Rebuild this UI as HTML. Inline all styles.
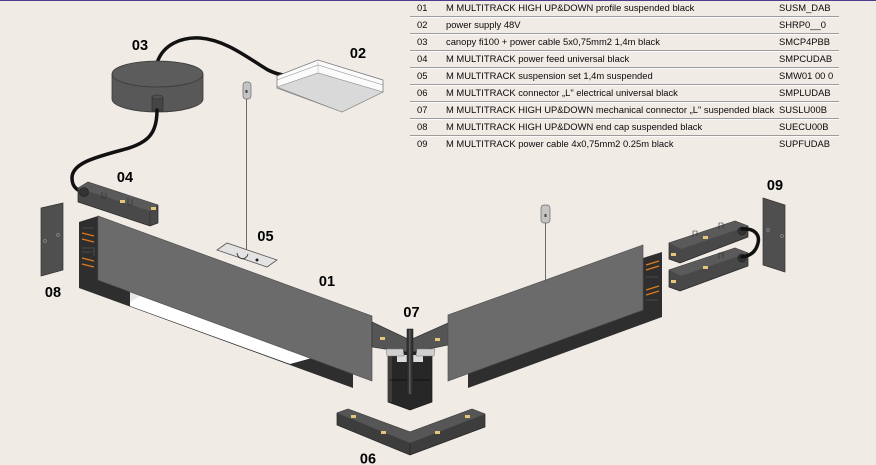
<!DOCTYPE html>
<html><head><meta charset="utf-8">
<style>
html,body{margin:0;padding:0;}
body{width:876px;height:465px;background:#f0ebe5;position:relative;overflow:hidden;font-family:"Liberation Sans",Arial,sans-serif;}
.topline{position:absolute;left:0;top:0;width:876px;height:1px;background:#4b3d8e;}
.row{position:absolute;left:410px;width:429px;height:17px;font-size:9.4px;color:#0a0a0a;line-height:16px;}
.row .ln{position:absolute;left:0;right:0;bottom:0;height:1px;background:#9c9c9c;box-shadow:0 1px 0 #fbfbfb;}
.row span{position:absolute;top:0;white-space:nowrap;}
.n{left:7px;}
.d{left:36px;}
.c{left:369px;}
svg{position:absolute;left:0;top:0;}
</style></head><body>
<div class="topline"></div>

<div class="row" style="top:0px"><span class="n">01</span><span class="d">M MULTITRACK HIGH UP&amp;DOWN profile suspended black</span><span class="c">SUSM_DAB</span><div class="ln"></div></div>
<div class="row" style="top:17px"><span class="n">02</span><span class="d">power supply 48V</span><span class="c">SHRP0__0</span><div class="ln"></div></div>
<div class="row" style="top:34px"><span class="n">03</span><span class="d">canopy fi100 + power cable 5x0,75mm2 1,4m black</span><span class="c">SMCP4PBB</span><div class="ln"></div></div>
<div class="row" style="top:51px"><span class="n">04</span><span class="d">M MULTITRACK power feed universal black</span><span class="c">SMPCUDAB</span><div class="ln"></div></div>
<div class="row" style="top:68px"><span class="n">05</span><span class="d">M MULTITRACK suspension set 1,4m suspended</span><span class="c">SMW01 00 0</span><div class="ln"></div></div>
<div class="row" style="top:85px"><span class="n">06</span><span class="d">M MULTITRACK connector „L" electrical universal black</span><span class="c">SMPLUDAB</span><div class="ln"></div></div>
<div class="row" style="top:102px"><span class="n">07</span><span class="d">M MULTITRACK HIGH UP&amp;DOWN mechanical connector „L" suspended black</span><span class="c">SUSLU00B</span><div class="ln"></div></div>
<div class="row" style="top:119px"><span class="n">08</span><span class="d">M MULTITRACK HIGH UP&amp;DOWN end cap suspended black</span><span class="c">SUECU00B</span><div class="ln"></div></div>
<div class="row" style="top:136px"><span class="n">09</span><span class="d">M MULTITRACK power cable 4x0,75mm2 0.25m black</span><span class="c">SUPFUDAB</span></div>

<svg width="876" height="465" viewBox="0 0 876 465">
<!-- cables -->
<path d="M157,63 C163,44 182,37 200,38 C226,40 248,58 268,70 C280,76 290,76 297,76" fill="none" stroke="#111" stroke-width="3.5" stroke-linecap="round"/>
<!-- power supply 02 -->
<polygon points="277,76 318,60 383,80 383,92 342,112 277,88" fill="#fbfbfb" stroke="#7a7a7a" stroke-width="0.8"/>
<polygon points="277,87 318,73 383,92 342,112" fill="#d9d9d9" stroke="#8a8a8a" stroke-width="0.6"/>
<polyline points="277,80 318,65 383,85" fill="none" stroke="#9a9a9a" stroke-width="0.6"/>
<line x1="318" y1="62" x2="318" y2="73" stroke="#b0b0b0" stroke-width="0.5"/>
<!-- canopy 03 -->
<ellipse cx="157.5" cy="99" rx="45.5" ry="13" fill="#585858" stroke="#3a3a3a" stroke-width="0.8"/>
<rect x="112" y="74" width="91" height="25" fill="#585858"/>
<line x1="112" y1="74" x2="112" y2="99" stroke="#3a3a3a" stroke-width="0.8"/>
<line x1="203" y1="74" x2="203" y2="99" stroke="#3a3a3a" stroke-width="0.8"/>
<ellipse cx="157.5" cy="74" rx="45.5" ry="13" fill="#5c5c5c" stroke="#3a3a3a" stroke-width="0.8"/>
<rect x="152" y="97" width="11" height="14" fill="#454545" stroke="#2a2a2a" stroke-width="0.6"/>
<ellipse cx="157.5" cy="97" rx="5.5" ry="2" fill="#505050" stroke="#2a2a2a" stroke-width="0.5"/>
<path d="M157,110 C157,132 150,143 122,150 C92,158 72,164 72,178 C72,188 79,192 85,191" fill="none" stroke="#111" stroke-width="3.5" stroke-linecap="round"/>

<!-- hanger left -->
<line x1="246.5" y1="98" x2="246.5" y2="252" stroke="#6a6a6a" stroke-width="1"/>
<rect x="243" y="82" width="8" height="17" rx="3" fill="#c4c4c4" stroke="#6a6a6a" stroke-width="0.7"/>
<rect x="245.5" y="90" width="2" height="3" fill="#444"/>
<!-- plate 05 -->
<polygon points="217,250 227,243 277,260 267,267" fill="#e3e3e3" stroke="#555" stroke-width="0.8"/>
<path d="M237,253 C238,260 246,261 248,254" fill="none" stroke="#333" stroke-width="0.9"/>
<circle cx="257" cy="260" r="1.5" fill="#222"/>

<!-- 04 connector -->
<polygon points="78,188 88,182 158,205 158,223 150,226 78,202" fill="#494949" stroke="#2a2a2a" stroke-width="0.7"/>
<polygon points="78,188 88,182 158,205 150,211" fill="#5a5a5a"/>
<line x1="150" y1="211" x2="150" y2="226" stroke="#2a2a2a" stroke-width="0.6"/>
<rect x="120" y="200" width="5" height="3" fill="#e6c77a"/>
<rect x="151" y="207" width="5" height="3" fill="#e6c77a"/>
<path d="M102,192 v6 h4 v-5 M128,198 v7 h4 v-6" fill="none" stroke="#2b2b2b" stroke-width="0.6"/>
<circle cx="84" cy="192" r="4.5" fill="#333" stroke="#1a1a1a" stroke-width="0.6"/>

<!-- 08 end cap -->
<polygon points="41,208 63,203 63,270 41,276" fill="#4f4f4f" stroke="#333" stroke-width="0.7"/>
<circle cx="45" cy="241" r="1.4" fill="none" stroke="#999" stroke-width="0.6"/>
<circle cx="58" cy="235" r="1.4" fill="none" stroke="#999" stroke-width="0.6"/>

<!-- left profile body -->
<polygon points="79,222 98,216 372,316 353,330 353,388 79,288" fill="#2e2e2e"/>
<polygon points="130,292 312,358 290,364 130,306" fill="#ffffff"/>
<polygon points="130,292 140,296 130,302" fill="#e8e8e8"/>
<g stroke="#e07a1c" stroke-width="1.4">
<line x1="82" y1="233" x2="94" y2="236"/><line x1="82" y1="239" x2="94" y2="242"/>
<line x1="82" y1="258" x2="94" y2="261"/><line x1="82" y1="264" x2="94" y2="267"/>
</g>
<g stroke="#555" stroke-width="0.8" fill="none">
<path d="M82,228 h12 M82,248 h12 v8 M82,252 h10"/>
</g>
<!-- left panel -->
<polygon points="98,216 372,316 372,381 98,280" fill="#6b6b6b" stroke="#545454" stroke-width="0.7"/>

<!-- right profile body -->
<polygon points="468,345 643,258 662,252 662,317 468,388" fill="#2e2e2e"/>
<g stroke="#e07a1c" stroke-width="1.4">
<line x1="646" y1="265" x2="659" y2="261"/><line x1="646" y1="270" x2="659" y2="266"/>
<line x1="646" y1="290" x2="659" y2="286"/><line x1="646" y1="295" x2="659" y2="291"/>
</g>
<path d="M646,277 h12 M646,300 h12" stroke="#555" stroke-width="0.8"/>
<!-- right hanger -->
<line x1="545.5" y1="220" x2="545.5" y2="281" stroke="#6a6a6a" stroke-width="1"/>
<rect x="541" y="205" width="9" height="18" rx="3" fill="#c4c4c4" stroke="#6a6a6a" stroke-width="0.7"/>
<rect x="544.5" y="214" width="2" height="3" fill="#444"/>

<!-- 07 arms -->
<polygon points="372,322 410,340 410,353 372,347" fill="#555" stroke="#333" stroke-width="0.7"/>
<polygon points="410,340 448,323 448,345 410,353" fill="#555" stroke="#333" stroke-width="0.7"/>
<rect x="380" y="337" width="5" height="3" fill="#e6c77a"/>
<rect x="435" y="338" width="5" height="3" fill="#e6c77a"/>
<!-- right panel -->
<polygon points="448,315 643,245 643,310 448,381" fill="#6b6b6b" stroke="#545454" stroke-width="0.7"/>

<!-- 07 vertical box -->
<polygon points="388,352 432,352 432,402 410,410 388,402" fill="#272727" stroke="#1a1a1a" stroke-width="0.7"/>
<rect x="388" y="352" width="4" height="50" fill="#3e3e3e"/>
<line x1="390" y1="380" x2="430" y2="380" stroke="#111" stroke-width="1"/>
<polygon points="397,355 423,355 423,362 397,362" fill="#dcdcdc"/>
<polygon points="386,349 403,349 404,356 387,356" fill="#cfcfcf" stroke="#777" stroke-width="0.5"/>
<polygon points="417,349 435,349 434,356 416,356" fill="#cfcfcf" stroke="#777" stroke-width="0.5"/>
<rect x="407" y="329" width="6" height="66" fill="#333" stroke="#1a1a1a" stroke-width="0.5"/>
<rect x="409" y="330" width="1.5" height="64" fill="#5a5a5a"/>

<!-- 06 connector -->
<polygon points="337,413 348,409 410,432 472,409 485,414 485,427 410,455 337,425" fill="#3d3d3d" stroke="#262626" stroke-width="0.7"/>
<polygon points="337,413 348,409 410,432 472,409 485,414 410,443" fill="#565656"/>
<line x1="410" y1="443" x2="410" y2="455" stroke="#262626" stroke-width="0.7"/>
<rect x="351" y="415" width="5" height="3" fill="#e6c77a"/>
<rect x="381" y="431" width="5" height="3" fill="#e6c77a"/>
<rect x="435" y="431" width="5" height="3" fill="#e6c77a"/>
<rect x="465" y="415" width="5" height="3" fill="#e6c77a"/>

<!-- 09 connectors -->
<polygon points="669,243 735,221 748,226 748,237 680,263 669,259" fill="#484848" stroke="#262626" stroke-width="0.7"/>
<polygon points="669,243 735,221 748,226 681,249" fill="#5a5a5a"/>
<polygon points="669,270 735,248 748,253 748,266 680,291 669,287" fill="#484848" stroke="#262626" stroke-width="0.7"/>
<polygon points="669,270 735,248 748,253 681,276" fill="#5a5a5a"/>
<rect x="671" y="253" width="5" height="3" fill="#e6c77a"/>
<rect x="703" y="236" width="5" height="3" fill="#e6c77a"/>
<rect x="671" y="280" width="5" height="3" fill="#e6c77a"/>
<rect x="703" y="266" width="5" height="3" fill="#e6c77a"/>
<path d="M693,237 v-6 h4 v5 M719,229 v-6 h4 v5 M719,259 v-6 h4 v5" fill="none" stroke="#2b2b2b" stroke-width="0.6"/>
<circle cx="742" cy="231" r="4" fill="#333" stroke="#1a1a1a" stroke-width="0.6"/>
<circle cx="742" cy="258" r="4" fill="#333" stroke="#1a1a1a" stroke-width="0.6"/>
<path d="M742,229 C755,228 760,235 758,243 C756,252 750,256 742,257" fill="none" stroke="#111" stroke-width="3.5" stroke-linecap="round"/>
<!-- 09 end cap -->
<polygon points="763,198 785,205 785,272 763,265" fill="#4f4f4f" stroke="#333" stroke-width="0.7"/>
<circle cx="768" cy="230" r="1.4" fill="none" stroke="#999" stroke-width="0.6"/>
<circle cx="782" cy="236" r="1.4" fill="none" stroke="#999" stroke-width="0.6"/>

<!-- labels -->
<g font-family="Liberation Sans, Arial, sans-serif" font-weight="bold" font-size="14.5" fill="#000" text-anchor="middle">
<text x="140" y="50">03</text>
<text x="358" y="58">02</text>
<text x="125" y="182">04</text>
<text x="265.5" y="241">05</text>
<text x="327" y="286">01</text>
<text x="53" y="297">08</text>
<text x="411.5" y="317">07</text>
<text x="775" y="190">09</text>
<text x="368" y="463.5">06</text>
</g>
</svg>
</body></html>
